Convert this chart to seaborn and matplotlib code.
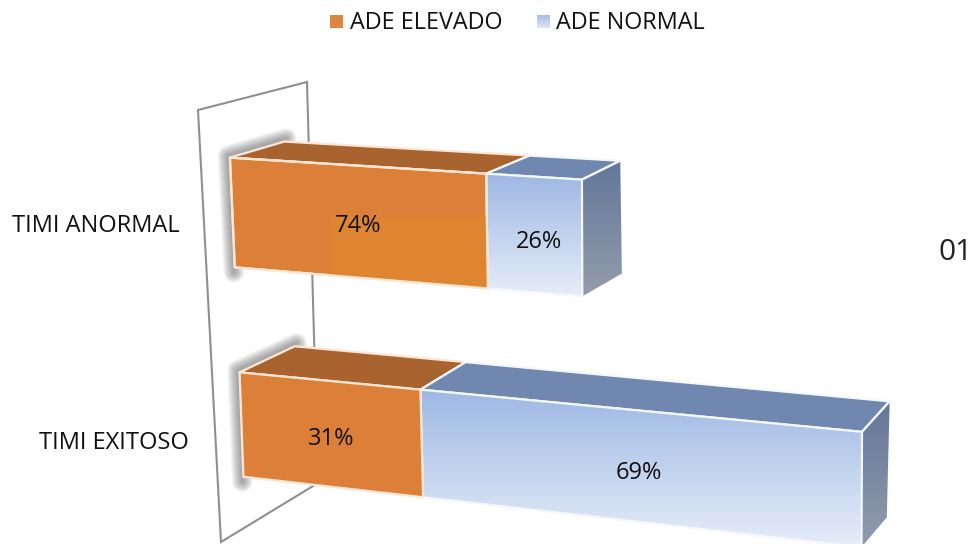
import numpy as np
import pandas as pd
import matplotlib
matplotlib.use("Agg")
import matplotlib.pyplot as plt
from matplotlib.patches import Polygon
import seaborn as sns

# ---- data ----
categories = ["TIMI ANORMAL", "TIMI EXITOSO"]
ade_elevado = [20, 15]
ade_normal = [7, 33]
pct_elevado = ["74%", "31%"]
pct_normal = ["26%", "69%"]
series_names = ["ADE ELEVADO", "ADE NORMAL"]

# ---- perspective calibration: (count, band position) -> reference pixels, one set per bar ----
FRONT_SRC = [[(0, -.25), (0, .25), (20, -.25), (20, .25), (27, -.25), (27, .25)],
             [(0, .75), (0, 1.25), (15, .75), (15, 1.25), (48, .75), (48, 1.25)]]
FRONT_DST = [[(230, 157), (235, 268), (486, 174), (487, 288), (582, 180), (583, 296)],
             [(240, 371), (244, 478), (420, 389), (422, 498), (862, 434), (862, 545)]]
BACK_SRC = [[(0, -.25), (0, .25), (20, -.25), (27, -.25), (27, .25)],
            [(0, .75), (0, 1.25), (15, .75), (48, .75), (48, 1.25)]]
BACK_DST = [[(285, 140), (289, 250), (527, 156), (622, 162), (622, 272)],
            [(296, 345), (300, 452), (464, 361), (890, 404), (887, 515)]]


def fit_h(src, dst):
    rows = []
    for (x, y), (u, v) in zip(src, dst):
        x = x / 48.0
        rows.append([x, y, 1, 0, 0, 0, -u * x, -u * y, -u])
        rows.append([0, 0, 0, x, y, 1, -v * x, -v * y, -v])
    A = np.array(rows, float)
    scale = np.array([1, 1, 1, 1, 1, 1, 1e-3, 1e-3, 1e-3])
    _, _, vt = np.linalg.svd(A * scale)
    return (vt[-1] * scale).reshape(3, 3)


HF = [fit_h(s, d) for s, d in zip(FRONT_SRC, FRONT_DST)]
HB = [fit_h(s, d) for s, d in zip(BACK_SRC, BACK_DST)]


def proj(H, x, y):
    p = H @ np.array([x / 48.0, y, 1.0])
    return (p[0] / p[2], p[1] / p[2])


# ---- figure ----
sns.set_theme(style="white")
plt.rcParams["font.family"] = ["Open Sans", "DejaVu Sans"]
fig = plt.figure(figsize=(9.77, 5.44), dpi=100, facecolor="white")

# hidden seaborn axes gives the stacked bar geometry from the data
src = fig.add_axes([0, 0, 1, 1])
totals = [a + b for a, b in zip(ade_elevado, ade_normal)]
df = pd.DataFrame({"cat": categories, "el": ade_elevado, "tot": totals})
sns.barplot(df, x="tot", y="cat", width=0.5, ax=src, color="#9DB8E4")
sns.barplot(df, x="el", y="cat", width=0.5, ax=src, color="#DC8039")
tot_rects = list(src.containers[0])
el_rects = list(src.containers[1])
src.set_visible(False)

ax = fig.add_axes([0, 0, 1, 1])
ax.set_axis_off()


def flat(pts, color, z, edge=None):
    ax.add_patch(Polygon(pts, closed=True, fc=color, ec=edge or "none", lw=1.6 if edge else 0,
                         zorder=z, joinstyle="round"))


def grad(pts, c_top, c_bot, z, edge=None):
    pts = np.array(pts)
    x0, x1, y0, y1 = pts[:, 0].min(), pts[:, 0].max(), pts[:, 1].min(), pts[:, 1].max()
    cmap = matplotlib.colors.LinearSegmentedColormap.from_list("g", [c_top, c_bot])
    g = np.linspace(0, 1, 128).reshape(-1, 1)
    im = ax.imshow(g, cmap=cmap, extent=[x0, x1, y1, y0], aspect="auto", zorder=z)
    clip = Polygon(pts, closed=True, transform=ax.transData)
    im.set_clip_path(clip)
    if edge:
        ax.add_patch(Polygon(pts, closed=True, fc="none", ec=edge, lw=1.6, zorder=z + 0.1))


# back wall
wall_x = [318, 307, 198, 221, 318]
wall_y = [483, 82, 110, 542, 483]
ax.plot(wall_x, wall_y, color="#8f8f8f", lw=1.5, zorder=1, solid_joinstyle="miter")

CREAM = "#FBE6D6"
WHITE = "#F4F7FC"

for i, (el, tot) in enumerate(zip(el_rects, tot_rects)):
    y0, y1 = el.get_y(), el.get_y() + el.get_height()
    a, b = el.get_width(), tot.get_width()
    fTL, fBL = proj(HF[i], 0, y0), proj(HF[i], 0, y1)
    fTM, fBM = proj(HF[i], a, y0), proj(HF[i], a, y1)
    fTR, fBR = proj(HF[i], b, y0), proj(HF[i], b, y1)
    bTL = proj(HB[i], 0, y0)
    bTM = proj(HB[i], a, y0)
    bTR, bBR = proj(HB[i], b, y0), proj(HB[i], b, y1)

    # soft shadow on the left and back-left edges
    sx = [fBL[0] - 1, fTL[0] - 2, bTL[0] + 2]
    sy = [fBL[1] + 5, fTL[1] - 2, bTL[1] - 3]
    for w in np.arange(15, 0, -1.0):
        ax.plot(sx, sy, color="#555555", lw=w, alpha=0.045, zorder=2,
                solid_capstyle="round", solid_joinstyle="round")

    # top faces
    flat([fTL, bTL, bTM, fTM], "#A9632E", 3, CREAM)
    flat([fTM, bTM, bTR, fTR], "#7088B0", 3, WHITE)
    # side face
    grad([fTR, bTR, bBR, fBR], "#62779A", "#939CAB", 3)
    ax.plot([fTR[0], bTR[0]], [fTR[1], bTR[1]], color=WHITE, lw=1.6, zorder=4)
    # front faces
    grad([fTM, fTR, fBR, fBM], "#9DB8E4", "#E6EDF8", 5, WHITE)
    front = Polygon([fTL, fTM, fBM, fBL], closed=True, fc="#DC8039", ec=CREAM, lw=1.6, zorder=6)
    ax.add_patch(front)
    if i == 0:
        patch = ax.fill_between([331, 490], 217, 300, color="#DF8531", lw=0, zorder=6.1)
        patch.set_clip_path(Polygon([fTL, fTM, fBM, fBL], closed=True, transform=ax.transData))
        ax.add_patch(Polygon([fTL, fTM, fBM, fBL], closed=True, fc="none", ec=CREAM, lw=1.6, zorder=6.2))

    # value labels
    cy = (y0 + y1) / 2
    xa, ya = proj(HF[i], a / 2, cy)
    xb, yb = proj(HF[i], (a + b) / 2, cy)
    ax.text(xa + 1, ya + 4.5, pct_elevado[i], ha="center", va="center", fontsize=17, color="#111111", zorder=8)
    ax.text(xb + 5, yb + 7, pct_normal[i], ha="center", va="center", fontsize=17, color="#111111", zorder=8)

# category labels
ax.text(180, 226, categories[0], ha="right", va="center", fontsize=17, color="#111111")
ax.text(189, 443, categories[1], ha="right", va="center", fontsize=17, color="#111111")

# stray label on the right
ax.text(939, 252, "01", ha="left", va="center", fontsize=21.5, color="#222222")

# legend
flat([(330, 15), (343, 15), (343, 28), (330, 28)], "#DF853F", 5)
grad([(537, 15), (550, 15), (550, 28), (537, 28)], "#A6BEE6", "#DCE6F6", 5)
ax.text(350, 23, series_names[0], ha="left", va="center", fontsize=16.8, color="#111111")
ax.text(556, 23, series_names[1], ha="left", va="center", fontsize=16.8, color="#111111")

ax.set_xlim(0, 977)
ax.set_ylim(544, 0)
fig.savefig("out.png", dpi=100)
